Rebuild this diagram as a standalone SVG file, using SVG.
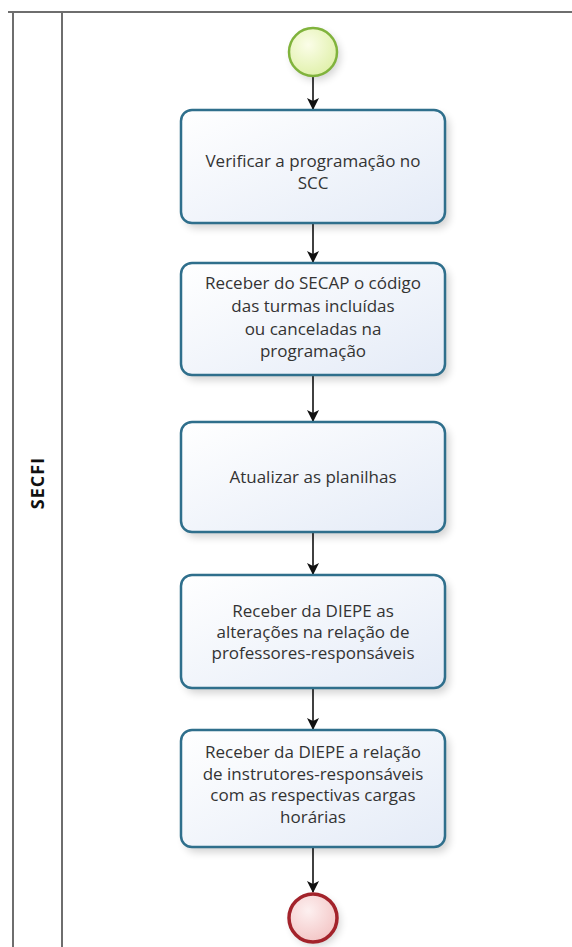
<svg xmlns="http://www.w3.org/2000/svg" width="572" height="947" viewBox="0 0 572 947">
  <style>
    .lane { stroke: #6e6e6e; stroke-width: 2; fill: none; }
    .task rect.body { fill: url(#taskFill); stroke: #2f6f8c; stroke-width: 2.5; }
    .task text, .lbl { font-family: "Open Sans", "Noto Sans", sans-serif; font-size: 17px; fill: #333333; text-anchor: middle; }
    .flow { stroke: #111111; stroke-width: 1.6; fill: none; marker-end: url(#arrow); }
    .shadow { fill: #000000; opacity: 0.18; filter: url(#soft); }
  </style>
  <defs>
    <linearGradient id="taskFill" x1="0" y1="0" x2="1" y2="1">
      <stop offset="0" stop-color="#ffffff"/>
      <stop offset="1" stop-color="#e4ebf7"/>
    </linearGradient>
    <radialGradient id="startFill" cx="0.4" cy="0.35" r="0.7">
      <stop offset="0" stop-color="#fbfde8"/>
      <stop offset="1" stop-color="#dff0a8"/>
    </radialGradient>
    <radialGradient id="endFill" cx="0.4" cy="0.35" r="0.7">
      <stop offset="0" stop-color="#fdf0f0"/>
      <stop offset="1" stop-color="#f3c4c4"/>
    </radialGradient>
    <filter id="soft" x="-20%" y="-20%" width="140%" height="140%">
      <feGaussianBlur stdDeviation="4"/>
    </filter>
    <marker id="arrow" viewBox="0 0 12 12" refX="11" refY="6" markerWidth="12" markerHeight="12" markerUnits="userSpaceOnUse" orient="auto">
      <path d="M0,0 L12,6 L0,12 L3,6 Z" fill="#111111"/>
    </marker>
  </defs>

  <rect width="572" height="947" fill="#ffffff"/>

  <!-- pool and lane frame -->
  <g id="lane-secfi">
    <line class="lane" x1="8" y1="12" x2="572" y2="12"/>
    <line class="lane" x1="13" y1="12" x2="13" y2="947"/>
    <line class="lane" x1="62" y1="12" x2="62" y2="947"/>
    <text class="lbl" x="0" y="0" transform="translate(44,483) rotate(-90)" style="font-weight:bold;font-size:18px;letter-spacing:1px;fill:#111111">SECFI</text>
  </g>

  <!-- connectors -->
  <g id="connectors">
    <line class="flow" x1="313" y1="77" x2="313" y2="109"/>
    <line class="flow" x1="313" y1="224" x2="313" y2="262"/>
    <line class="flow" x1="313" y1="376" x2="313" y2="421"/>
    <line class="flow" x1="313" y1="533" x2="313" y2="574"/>
    <line class="flow" x1="313" y1="689" x2="313" y2="729"/>
    <line class="flow" x1="313" y1="848" x2="313" y2="892"/>
  </g>

  <!-- start event -->
  <g id="start">
    <circle class="shadow" cx="316" cy="56" r="24"/>
    <circle cx="313" cy="52" r="24" fill="url(#startFill)" stroke="#80b33c" stroke-width="2.5"/>
  </g>

  <g id="task1" class="task">
    <rect class="shadow" x="185" y="115" width="264" height="113" rx="11"/>
    <rect class="body" x="181" y="110" width="264" height="113" rx="11"/>
    <text x="313" y="167">Verificar a programação no</text>
    <text x="313" y="189">SCC</text>
  </g>

  <g id="task2" class="task">
    <rect class="shadow" x="185" y="268" width="264" height="112" rx="11"/>
    <rect class="body" x="181" y="263" width="264" height="112" rx="11"/>
    <text x="313" y="289">Receber do SECAP o código</text>
    <text x="313" y="312">das turmas incluídas</text>
    <text x="313" y="335">ou canceladas na</text>
    <text x="313" y="357">programação</text>
  </g>

  <g id="task3" class="task">
    <rect class="shadow" x="185" y="427" width="264" height="110" rx="11"/>
    <rect class="body" x="181" y="422" width="264" height="110" rx="11"/>
    <text x="313" y="483">Atualizar as planilhas</text>
  </g>

  <g id="task4" class="task">
    <rect class="shadow" x="185" y="580" width="264" height="113" rx="11"/>
    <rect class="body" x="181" y="575" width="264" height="113" rx="11"/>
    <text x="313" y="617">Receber da DIEPE as</text>
    <text x="313" y="638">alterações na relação de</text>
    <text x="313" y="659">professores-responsáveis</text>
  </g>

  <g id="task5" class="task">
    <rect class="shadow" x="185" y="735" width="264" height="117" rx="11"/>
    <rect class="body" x="181" y="730" width="264" height="117" rx="11"/>
    <text x="313" y="758">Receber da DIEPE a relação</text>
    <text x="313" y="780">de instrutores-responsáveis</text>
    <text x="313" y="801">com as respectivas cargas</text>
    <text x="313" y="823">horárias</text>
  </g>

  <!-- end event -->
  <g id="end">
    <circle class="shadow" cx="316" cy="922" r="24"/>
    <circle cx="313" cy="918" r="24" fill="url(#endFill)" stroke="#a3232b" stroke-width="3.5"/>
  </g>
</svg>
